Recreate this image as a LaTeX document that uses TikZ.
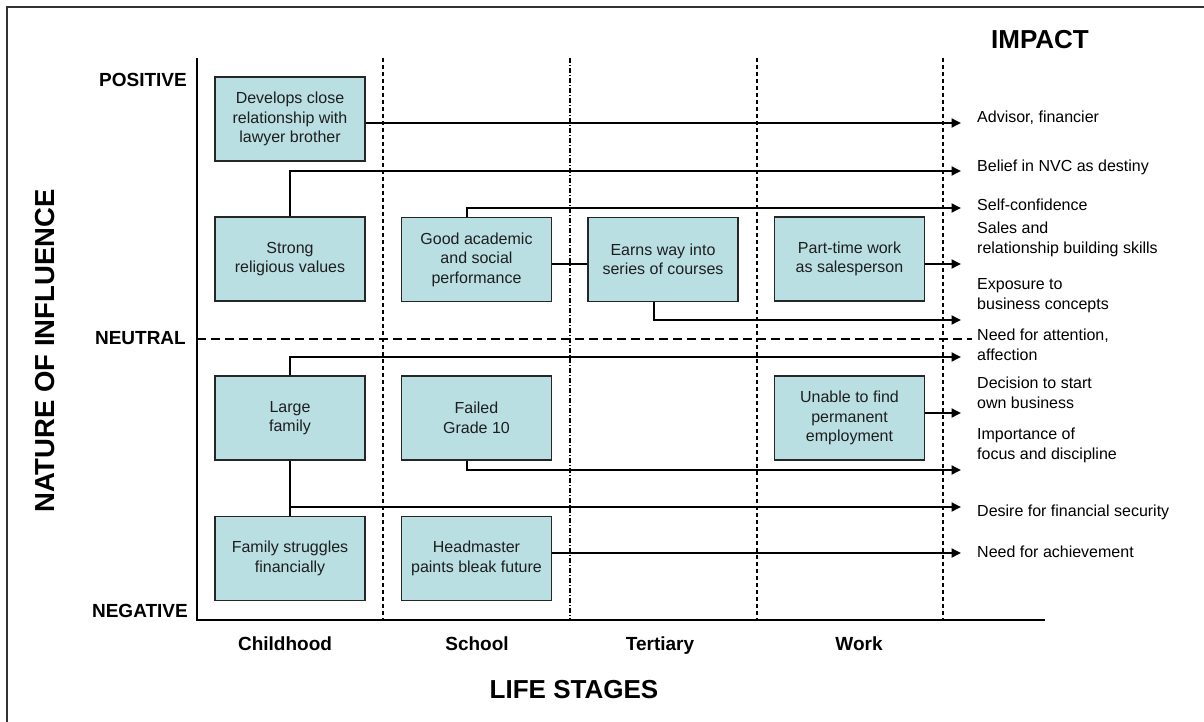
\documentclass[tikz,border=0pt]{standalone}
\usepackage{fontspec}
\setmainfont{Liberation Sans}
\usetikzlibrary{arrows.meta}
\definecolor{boxfill}{HTML}{B9DFE3}
\definecolor{boxtext}{HTML}{1E1E1E}
\begin{document}
\begin{tikzpicture}[x=1pt,y=-1pt,
  event/.style={draw=black!85,line width=1.3pt,fill=boxfill,minimum width=150pt,
    minimum height=84pt,align=center,inner sep=2pt,text=boxtext,
    font=\fontsize{16}{19.5}\selectfont},
  impact/.style={anchor=base west,inner sep=0pt,align=left,
    font=\fontsize{16}{20}\selectfont},
  level/.style={anchor=east,inner sep=0pt,font=\bfseries\fontsize{19}{22}\selectfont},
  stage/.style={anchor=base,inner sep=0pt,font=\bfseries\fontsize{19}{22}\selectfont},
  title/.style={inner sep=0pt,font=\bfseries\fontsize{26}{30}\selectfont},
  link/.style={line width=1.8pt},
  arr/.style={line width=1.8pt,-{Triangle[length=9.5pt,width=9pt]}},
  axis/.style={line width=2pt},
  sep/.style={line width=1.2pt,dash pattern=on 4pt off 3pt},
  sepdot/.style={line width=1.2pt,dash pattern=on 5pt off 2pt on 1pt off 2pt},
  mid/.style={line width=1.3pt,dash pattern=on 9pt off 5pt}]

\useasboundingbox (0,0) rectangle (1204,722);

% frame
\draw[line width=1.5pt,black!80] (7,722) -- (7,7) -- (1204,7);

% stage separators and neutral line
\draw[sep] (383,58) -- (383,620);
\draw[sepdot] (570,58) -- (570,620);
\draw[sep] (757,58) -- (757,620);
\draw[sep] (943,58) -- (943,620);
\draw[mid] (197,339) -- (972,339);

% axes
\draw[axis] (197,58) -- (197,620) -- (1045,620);

% axis texts
\node[level] (pos) at (187,79.5) {POSITIVE};
\node[level] (neu) at (186,338) {NEUTRAL};
\node[level] (neg) at (188,611) {NEGATIVE};
\node[title,rotate=90,font=\bfseries\fontsize{27.5}{30}\selectfont] (nature) at (45,351) {NATURE OF INFLUENCE};
\node[title] (impacttitle) at (1040,40) {IMPACT};
\node[title] (lifestages) at (574,690) {LIFE STAGES};
\node[stage] (sChild) at (285,650) {Childhood};
\node[stage] (sSchool) at (477,650) {School};
\node[stage] (sTert) at (660,650) {Tertiary};
\node[stage] (sWork) at (859,650) {Work};

% events
\node[event] (bro) at (290,119) {Develops close\\relationship with\\lawyer brother};
\node[event] (rel) at (290,259) {Strong\\religious values};
\node[event] (acad) at (476.5,259.5) {Good academic\\and social\\performance};
\node[event] (earn) at (663,259.5) {Earns way into\\series of courses};
\node[event] (part) at (849.5,259) {Part-time work\\as salesperson};
\node[event] (large) at (290,418) {Large\\family};
\node[event] (fail) at (476.5,418) {Failed\\Grade 10};
\node[event] (unable) at (849.5,418) {Unable to find\\permanent\\employment};
\node[event] (fam) at (290,558.5) {Family struggles\\financially};
\node[event] (head) at (476.5,558.5) {Headmaster\\paints bleak future};

% arrow tips
\coordinate (t1) at (961,123);
\coordinate (t2) at (961,171);
\coordinate (t3) at (961,208);
\coordinate (t4) at (961,264);
\coordinate (t5) at (961,320);
\coordinate (t6) at (961,357);
\coordinate (t7) at (961,413);
\coordinate (t8) at (961,470);
\coordinate (t9) at (961,507);
\coordinate (t10) at (961,553);

% impacts
\node[impact] (i1) at (977,123) {Advisor, financier};
\node[impact] (i2) at (977,172) {Belief in NVC as destiny};
\node[impact] (i3) at (977,211) {Self-confidence};
\node[impact] (i4) at (977,253) {Sales and\\relationship building skills};
\node[impact] (i5) at (977,309) {Exposure to\\business concepts};
\node[impact] (i6) at (977,360) {Need for attention,\\affection};
\node[impact] (i7) at (977,408) {Decision to start\\own business};
\node[impact] (i8) at (977,459) {Importance of\\focus and discipline};
\node[impact] (i9) at (977,516) {Desire for financial security};
\node[impact] (i10) at (977,557) {Need for achievement};

% connectors
\draw[arr] (bro.east |- t1) -- (t1);
\draw[arr] (rel.north) |- (t2);
\draw[arr] ([xshift=-9.5pt]acad.north) |- (t3);
\draw[link] (acad.east |- t4) -- (earn.west |- t4);
\draw[arr] (part.east |- t4) -- (t4);
\draw[arr] ([xshift=-9pt]earn.south) |- (t5);
\draw[arr] (large.north) |- (t6);
\draw[arr] (unable.east |- t7) -- (t7);
\draw[arr] ([xshift=-9.5pt]fail.south) |- (t8);
\draw[link] (large.south) -- (fam.north);
\draw[arr] (large.south |- t9) -- (t9);
\draw[arr] (head.east |- t10) -- (t10);
\end{tikzpicture}
\end{document}
